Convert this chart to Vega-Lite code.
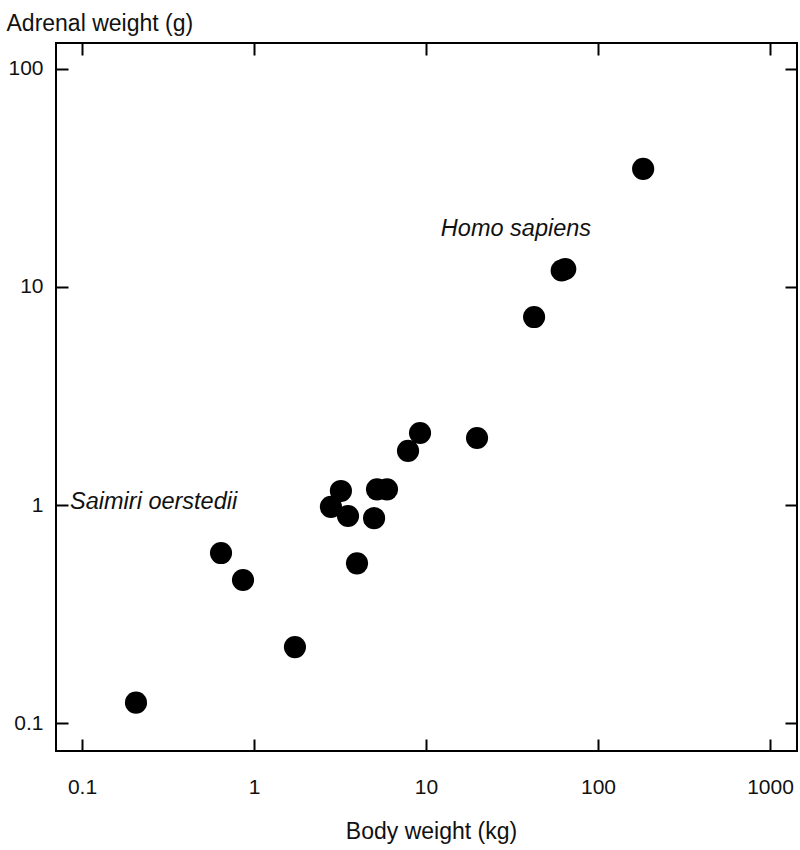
{
  "$schema": "https://vega.github.io/schema/vega-lite/v6.json",
  "width": 741,
  "height": 708,
  "autosize": {"type": "none"},
  "padding": {"left": 56, "top": 43, "right": 3, "bottom": 99},
  "background": "white",
  "config": {
    "view": {"stroke": "black", "strokeWidth": 2},
    "axis": {
      "grid": false,
      "domain": false,
      "tickColor": "black",
      "tickWidth": 2,
      "tickSize": -12,
      "labelFont": "Liberation Sans",
      "labelFontSize": 21,
      "labelColor": "#111",
      "titleFont": "Liberation Sans",
      "titleFontSize": 23,
      "titleFontWeight": "normal",
      "titleColor": "#111"
    }
  },
  "datasets": {
    "points": [
      {"body": 0.206, "adrenal": 0.124},
      {"body": 0.643, "adrenal": 0.602},
      {"body": 0.863, "adrenal": 0.453},
      {"body": 1.73, "adrenal": 0.223},
      {"body": 2.8, "adrenal": 0.98},
      {"body": 3.2, "adrenal": 1.16},
      {"body": 3.52, "adrenal": 0.89},
      {"body": 3.97, "adrenal": 0.54},
      {"body": 4.99, "adrenal": 0.87},
      {"body": 5.19, "adrenal": 1.18},
      {"body": 5.93, "adrenal": 1.18},
      {"body": 7.86, "adrenal": 1.77},
      {"body": 9.23, "adrenal": 2.14},
      {"body": 19.8, "adrenal": 2.03},
      {"body": 42.5, "adrenal": 7.28},
      {"body": 61.5, "adrenal": 11.9},
      {"body": 64.5, "adrenal": 12.1},
      {"body": 183, "adrenal": 34.8}
    ],
    "labels": [
      {"body": 12.2, "adrenal": 17.1, "name": "Homo sapiens"},
      {"body": 0.0852, "adrenal": 0.96, "name": "Saimiri oerstedii"}
    ]
  },
  "resolve": {"axis": {"x": "independent", "y": "independent"}},
  "layer": [
    {
      "data": {"name": "points"},
      "mark": {"type": "point", "shape": "circle", "filled": true, "color": "black", "opacity": 1, "size": 490},
      "encoding": {
        "x": {
          "field": "body", "type": "quantitative",
          "scale": {"type": "log", "domain": [0.0706, 1435], "nice": false, "zero": false},
          "axis": {
            "orient": "bottom", "values": [0.1, 1, 10, 100, 1000], "format": "~f",
            "labelPadding": 37, "title": "Body weight (kg)",
            "titleX": 375, "titleY": 87, "titleBaseline": "alphabetic", "titleAnchor": "middle", "titleAlign": "center"
          }
        },
        "y": {
          "field": "adrenal", "type": "quantitative",
          "scale": {"type": "log", "domain": [0.0744, 131.6], "nice": false, "zero": false},
          "axis": {
            "orient": "left", "values": [0.1, 1, 10, 100], "format": "~f",
            "labelPadding": 25, "title": "Adrenal weight (g)",
            "titleAngle": 0, "titleX": -50, "titleY": -13, "titleAlign": "left", "titleBaseline": "alphabetic"
          }
        }
      }
    },
    {
      "data": {"name": "labels"},
      "mark": {"type": "text", "align": "left", "baseline": "alphabetic", "font": "Liberation Sans", "fontStyle": "italic", "fontSize": 23.5, "color": "#111"},
      "encoding": {
        "x": {
          "field": "body", "type": "quantitative",
          "axis": {"orient": "top", "values": [0.1, 1, 10, 100, 1000], "labels": false, "title": null}
        },
        "y": {
          "field": "adrenal", "type": "quantitative",
          "axis": {"orient": "right", "values": [0.1, 1, 10, 100], "labels": false, "title": null}
        },
        "text": {"field": "name"}
      }
    }
  ]
}
